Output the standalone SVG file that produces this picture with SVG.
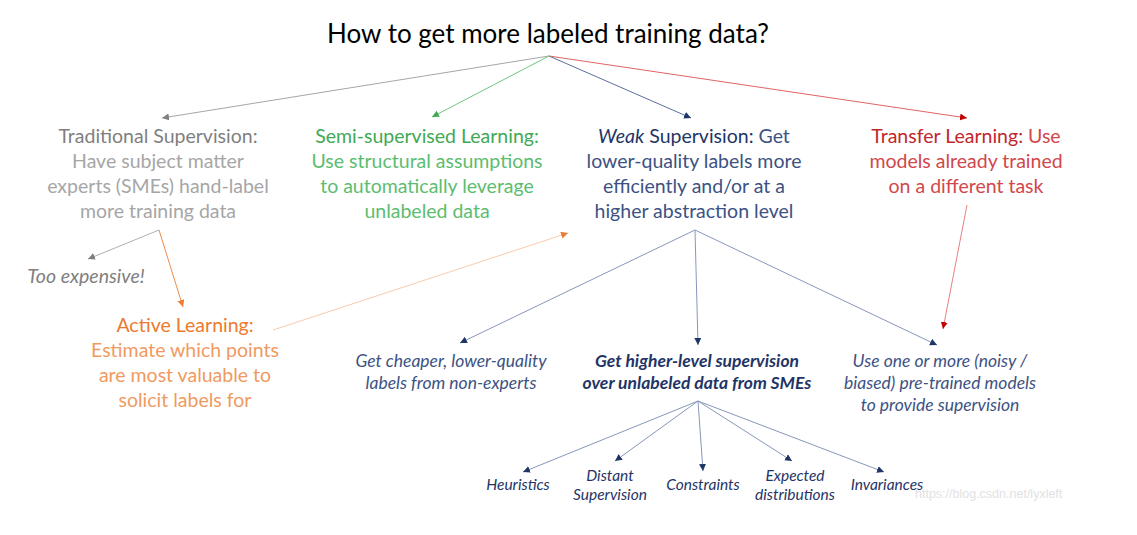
<svg xmlns="http://www.w3.org/2000/svg" width="1137" height="535" viewBox="0 0 1137 535">
<style>
text{font-family:Lato,"Open Sans","Liberation Sans",sans-serif;text-anchor:middle}
.title{font-size:26px;fill:#000}
.b{font-size:19.5px}
.sub{font-size:17.5px;font-style:italic}
.leaf{font-size:15.5px;font-style:italic;fill:#1f3566}
.gh{fill:#7f7f7f}.gb{fill:#a6a6a6}
.sh{fill:#3fa954}.sb{fill:#5cbd6f}
.wh{fill:#1f3566}.wb{fill:#3d5283}
.th{fill:#c1272d}.tb{fill:#d2474c}
.ah{fill:#ec7a2e}.ab{fill:#f09a62}
.c{fill:none;stroke-width:1}
.wm{font-family:"Liberation Sans",Arial,sans-serif;font-size:12.5px;fill:#e2e2e2;text-anchor:start}
</style>
<defs>
<marker id="mg" markerWidth="8" markerHeight="8" refX="7" refY="3.5" orient="auto" markerUnits="userSpaceOnUse"><path d="M0,0 L7,3.5 L0,7 Z" fill="#7f7f7f"/></marker>
<marker id="mgr" markerWidth="8" markerHeight="8" refX="7" refY="3.5" orient="auto" markerUnits="userSpaceOnUse"><path d="M0,0 L7,3.5 L0,7 Z" fill="#3fa954"/></marker>
<marker id="mn" markerWidth="8" markerHeight="8" refX="7" refY="3.5" orient="auto" markerUnits="userSpaceOnUse"><path d="M0,0 L7,3.5 L0,7 Z" fill="#1f3566"/></marker>
<marker id="mr" markerWidth="8" markerHeight="8" refX="7" refY="3.5" orient="auto" markerUnits="userSpaceOnUse"><path d="M0,0 L7,3.5 L0,7 Z" fill="#c00000"/></marker>
<marker id="mo" markerWidth="8" markerHeight="8" refX="7" refY="3.5" orient="auto" markerUnits="userSpaceOnUse"><path d="M0,0 L7,3.5 L0,7 Z" fill="#ed7d31"/></marker>
</defs>
<g id="connectors">
<line class="c" x1="549" y1="56" x2="162" y2="118" stroke="#a6a6a6" marker-end="url(#mg)"/>
<line class="c" x1="549" y1="56" x2="432" y2="117" stroke="#70c680" marker-end="url(#mgr)"/>
<line class="c" x1="549" y1="56" x2="691" y2="118" stroke="#5b6fa0" marker-end="url(#mn)"/>
<line class="c" x1="549" y1="56" x2="967" y2="118" stroke="#e06464" marker-end="url(#mr)"/>
<line class="c" x1="159" y1="230" x2="88" y2="259" stroke="#b0b0b0" marker-end="url(#mg)"/>
<line class="c" x1="159" y1="230" x2="183" y2="307" stroke="#ef8a4a" marker-end="url(#mo)"/>
<line class="c" x1="273" y1="330" x2="568" y2="233" stroke="#f8cbad" marker-end="url(#mo)"/>
<line class="c" x1="695" y1="230" x2="460" y2="343" stroke="#8797ba" marker-end="url(#mn)"/>
<line class="c" x1="695" y1="230" x2="698" y2="345" stroke="#8797ba" marker-end="url(#mn)"/>
<line class="c" x1="695" y1="230" x2="937" y2="345" stroke="#8797ba" marker-end="url(#mn)"/>
<line class="c" x1="967" y1="205" x2="943" y2="329" stroke="#e88080" marker-end="url(#mr)"/>
<line class="c" x1="698" y1="401" x2="523" y2="472" stroke="#8797ba" marker-end="url(#mn)"/>
<line class="c" x1="698" y1="401" x2="615" y2="461" stroke="#8797ba" marker-end="url(#mn)"/>
<line class="c" x1="698" y1="401" x2="703" y2="471" stroke="#8797ba" marker-end="url(#mn)"/>
<line class="c" x1="698" y1="401" x2="792" y2="461" stroke="#8797ba" marker-end="url(#mn)"/>
<line class="c" x1="698" y1="401" x2="884" y2="472" stroke="#8797ba" marker-end="url(#mn)"/>
</g>
<g id="title"><text class="title" x="548" y="43">How to get more labeled training data?</text></g>
<g id="traditional">
<text class="b gh" x="158" y="143">Traditional Supervision:</text>
<text class="b gb" x="158" y="168">Have subject matter</text>
<text class="b gb" x="158" y="193">experts (SMEs) hand-label</text>
<text class="b gb" x="158" y="218">more training data</text>
</g>
<g id="semi">
<text class="b sh" x="427" y="143">Semi-supervised Learning:</text>
<text class="b sb" x="427" y="168">Use structural assumptions</text>
<text class="b sb" x="427" y="193">to automatically leverage</text>
<text class="b sb" x="427" y="218">unlabeled data</text>
</g>
<g id="weak">
<text class="b wh" x="694" y="143"><tspan font-style="italic">Weak</tspan> Supervision: <tspan class="wb">Get</tspan></text>
<text class="b wb" x="694" y="168">lower-quality labels more</text>
<text class="b wb" x="694" y="193">efficiently and/or at a</text>
<text class="b wb" x="694" y="218">higher abstraction level</text>
</g>
<g id="transfer">
<text class="b th" x="966" y="143">Transfer Learning: <tspan class="tb">Use</tspan></text>
<text class="b tb" x="966" y="168">models already trained</text>
<text class="b tb" x="966" y="193">on a different task</text>
</g>
<g id="expensive"><text class="b gh" x="86" y="283" font-style="italic" font-size="20.5px">Too expensive!</text></g>
<g id="active">
<text class="b ah" x="185" y="332">Active Learning:</text>
<text class="b ab" x="185" y="357">Estimate which points</text>
<text class="b ab" x="185" y="382">are most valuable to</text>
<text class="b ab" x="185" y="407">solicit labels for</text>
</g>
<g id="cheaper">
<text class="sub wb" x="451" y="367">Get cheaper, lower-quality</text>
<text class="sub wb" x="451" y="389">labels from non-experts</text>
</g>
<g id="higher">
<text class="sub wh" x="697" y="367" font-weight="bold">Get higher-level supervision</text>
<text class="sub wh" x="697" y="389" font-weight="bold">over unlabeled data from SMEs</text>
</g>
<g id="pretrained">
<text class="sub wb" x="940" y="367">Use one or more (noisy /</text>
<text class="sub wb" x="940" y="389">biased) pre-trained models</text>
<text class="sub wb" x="940" y="411">to provide supervision</text>
</g>
<g id="heuristics"><text class="leaf" x="518" y="490">Heuristics</text></g>
<g id="distant"><text class="leaf" x="610" y="481">Distant</text><text class="leaf" x="610" y="500">Supervision</text></g>
<g id="constraints"><text class="leaf" x="703" y="490">Constraints</text></g>
<g id="expected"><text class="leaf" x="795" y="481">Expected</text><text class="leaf" x="795" y="500">distributions</text></g>
<g id="invariances"><text class="leaf" x="887" y="490">Invariances</text></g>
<text class="wm" x="915" y="498">https://blog.csdn.net/lyxleft</text>
</svg>
